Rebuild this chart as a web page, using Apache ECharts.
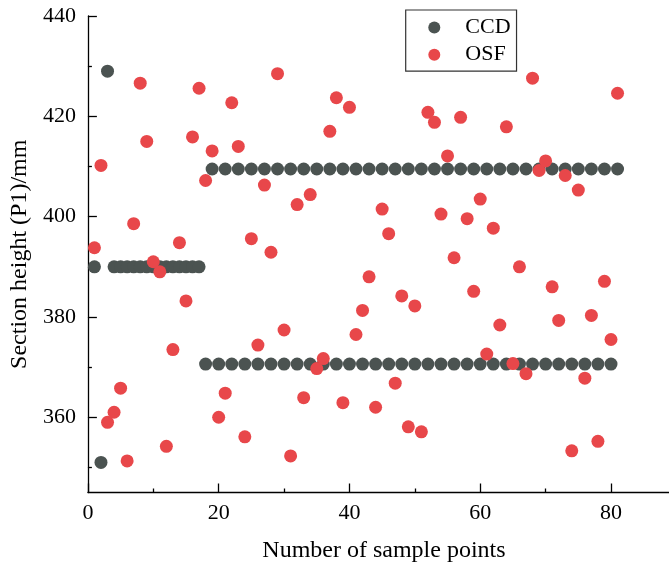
<!DOCTYPE html>
<html><head><meta charset="utf-8">
<script src="https://cdn.jsdelivr.net/npm/echarts@6/dist/echarts.min.js"></script>
<style>html,body{margin:0;padding:0;background:#fff}#c{width:669px;height:569px}</style>
</head><body><div id="c"></div>
<script>
const samplePoints = [1,2,3,4,5,6,7,8,9,10,11,12,13,14,15,16,17,18,19,20,21,22,23,24,25,26,27,28,29,30,31,32,33,34,35,36,37,38,39,40,41,42,43,44,45,46,47,48,49,50,51,52,53,54,55,56,57,58,59,60,61,62,63,64,65,66,67,68,69,70,71,72,73,74,75,76,77,78,79,80,81];
const ccdValues = [390, 351, 429, 390, 390, 390, 390, 390, 390, 390, 390, 390, 390, 390, 390, 390, 390,
  370.6, 409.5, 370.6, 409.5, 370.6, 409.5, 370.6, 409.5, 370.6, 409.5, 370.6, 409.5, 370.6, 409.5, 370.6, 409.5,
  370.6, 409.5, 370.6, 409.5, 370.6, 409.5, 370.6, 409.5, 370.6, 409.5, 370.6, 409.5, 370.6, 409.5, 370.6, 409.5,
  370.6, 409.5, 370.6, 409.5, 370.6, 409.5, 370.6, 409.5, 370.6, 409.5, 370.6, 409.5, 370.6, 409.5, 370.6, 409.5,
  370.6, 409.5, 370.6, 409.5, 370.6, 409.5, 370.6, 409.5, 370.6, 409.5, 370.6, 409.5, 370.6, 409.5, 370.6, 409.5];
const osfValues = [393.8, 410.2, 359.0, 361.0, 365.8, 351.3, 398.6, 426.6, 415.0, 391.0,
  389.0, 354.2, 373.5, 394.8, 383.2, 415.9, 425.6, 407.2, 413.1, 360.0,
  364.8, 422.7, 414.0, 356.1, 395.6, 374.4, 406.3, 392.9, 428.5, 377.4,
  352.3, 402.4, 363.9, 404.4, 369.7, 371.7, 417.0, 423.7, 362.9, 421.8,
  376.5, 381.3, 388.0, 362.0, 401.5, 396.6, 366.8, 384.2, 358.1, 382.2,
  357.1, 420.8, 418.8, 400.5, 412.1, 391.8, 419.8, 399.6, 385.1, 403.5,
  372.6, 397.7, 378.4, 417.9, 370.7, 390.0, 368.7, 427.6, 409.2, 411.1,
  386.0, 379.3, 408.2, 353.3, 405.3, 367.8, 380.3, 355.2, 387.1, 375.5,
  424.6];
const xTickLabels = [0, 20, 40, 60, 80];
const xMinorTicks = [10, 30, 50, 70];
const yTickLabels = [360, 380, 400, 420, 440];
const yMinorTicks = [350, 370, 390, 410, 430];
const seriesNames = ['CCD', 'OSF'];
const xName = 'Number of sample points';
const yName = 'Section height (P1)/mm';

const FONT = "'Liberation Serif', 'Times New Roman', serif";
const chart = echarts.init(document.getElementById('c'), null, {renderer: 'canvas'});
const lineStyle = {color: '#000', width: 1.3};
const toPairs = vals => samplePoints.map((x, i) => [x, vals[i]]);
const X_MAX = 88.87;

chart.setOption({
  animation: false,
  backgroundColor: '#fff',
  grid: {left: 85.5, top: 16, width: 583.5, height: 476.5, containLabel: false},
  legend: {
    data: seriesNames,
    orient: 'vertical',
    left: 405.7, top: 10,
    icon: 'circle',
    itemWidth: 12, itemHeight: 12, itemGap: 2.2,
    padding: [5, 6, 4, 22.6],
    borderColor: '#333', borderWidth: 1.2,
    textStyle: {fontFamily: FONT, fontSize: 22, color: '#000', lineHeight: 25, padding: [0, 0, 0, 20]}
  },
  xAxis: [{
    type: 'value', min: 0, max: X_MAX,
    name: xName, nameLocation: 'middle', nameGap: 46,
    nameTextStyle: {fontFamily: FONT, fontSize: 24, color: '#000', padding: [0, 0, 0, 11]},
    axisLine: {show: true, onZero: false, lineStyle},
    axisTick: {show: true, inside: true, length: 9, customValues: xTickLabels, lineStyle},
    axisLabel: {show: true, customValues: xTickLabels, margin: 10, fontFamily: FONT, fontSize: 22, color: '#000'},
    splitLine: {show: false}
  }, {
    type: 'value', min: 0, max: X_MAX, position: 'bottom', offset: 0,
    axisLine: {show: false},
    axisTick: {show: true, inside: true, length: 4, customValues: xMinorTicks, lineStyle},
    axisLabel: {show: false},
    splitLine: {show: false}
  }],
  yAxis: [{
    type: 'value', min: 345, max: 440,
    name: yName, nameLocation: 'middle', nameGap: 46,
    nameTextStyle: {fontFamily: FONT, fontSize: 24, color: '#000'},
    axisLine: {show: true, onZero: false, lineStyle},
    axisTick: {show: true, inside: true, length: 9, customValues: yTickLabels, lineStyle},
    axisLabel: {show: true, customValues: yTickLabels, margin: 12, fontFamily: FONT, fontSize: 22, color: '#000'},
    splitLine: {show: false}
  }, {
    type: 'value', min: 345, max: 440, position: 'left', offset: 0,
    axisLine: {show: false},
    axisTick: {show: true, inside: true, length: 4, customValues: yMinorTicks, lineStyle},
    axisLabel: {show: false},
    splitLine: {show: false}
  }],
  series: [{
    name: seriesNames[0], type: 'scatter', xAxisIndex: 0, yAxisIndex: 0,
    symbol: 'circle', symbolSize: 13,
    itemStyle: {color: '#4b5351', opacity: 1},
    data: toPairs(ccdValues), z: 2
  }, {
    name: seriesNames[1], type: 'scatter', xAxisIndex: 0, yAxisIndex: 0,
    symbol: 'circle', symbolSize: 13,
    itemStyle: {color: '#e8474a', opacity: 1},
    data: toPairs(osfValues), z: 3
  }]
});
</script></body></html>
